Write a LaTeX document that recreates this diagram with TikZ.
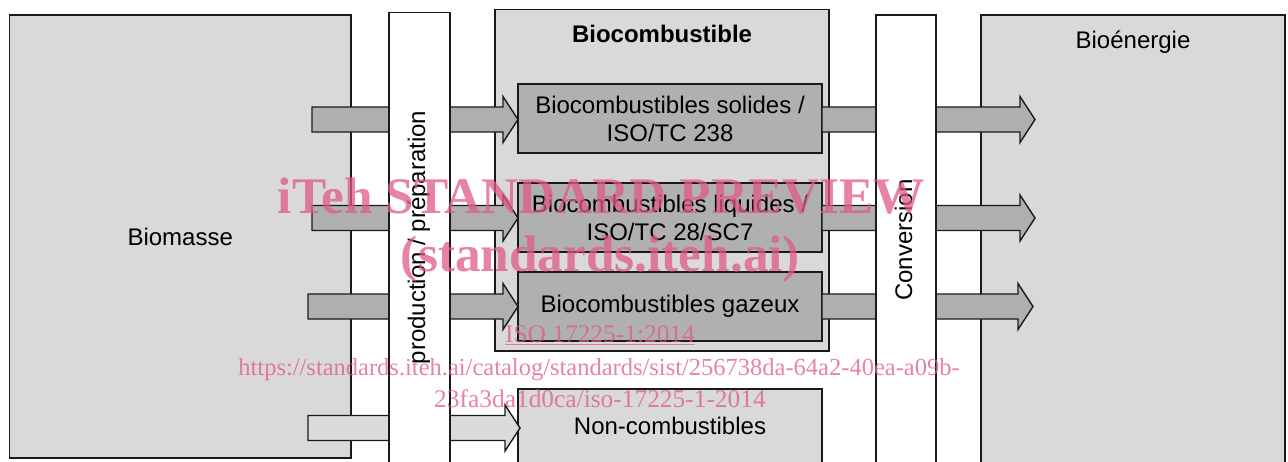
\documentclass[tikz,border=0pt]{standalone}
\usepackage{fontspec}
\setmainfont{Liberation Sans}
\newfontfamily\wmfont{Liberation Serif}
\usetikzlibrary{calc}

\definecolor{panel}{RGB}{217,217,217}
\definecolor{fuel}{RGB}{176,176,176}
\definecolor{flow}{RGB}{175,175,175}
\definecolor{flowlight}{RGB}{219,219,219}
\definecolor{edge}{RGB}{26,26,26}
\definecolor{stamp}{RGB}{225,90,135}

\tikzset{
  base/.style={draw=edge, line width=1.4pt, inner sep=0pt, outer sep=0pt,
               font=\fontsize{24}{28}\selectfont},
  panelbox/.style={base, fill=panel},
  fuelbox/.style={base, fill=fuel, align=center},
  column/.style={base, fill=white},
  flowarrow/.style={draw=edge, line width=1.4pt, line join=miter},
  caption/.style={inner sep=0pt, font=\fontsize{24}{28}\selectfont},
  stamptext/.style={text=stamp, text opacity=0.75, inner sep=0pt, anchor=base,
                    font=\wmfont\fontsize{25.4}{32}\selectfont},
  stamphead/.style={stamptext, font=\wmfont\bfseries\fontsize{51.3}{56}\selectfont},
}

% block arrow: fill, tail point, tip point, point giving the arrow's height
\newcommand\blockarrow[4]{%
  \path[flowarrow, fill=#1] let \p1=(#2), \p2=(#3), \p3=(#4) in
    (\x1,\y3+12.5pt) -- (\x2-15pt,\y3+12.5pt) -- (\x2-15pt,\y3+23pt) --
    (\x2,\y3) -- (\x2-15pt,\y3-23pt) -- (\x2-15pt,\y3-12.5pt) --
    (\x1,\y3-12.5pt) -- cycle;}

\begin{document}
\begin{tikzpicture}[x=1pt, y=-1pt]
\useasboundingbox (0,0) rectangle (1288,461);
\fill[white] (0,0) rectangle (1288,461);

\begin{scope}
\clip (0,0) rectangle (1288,461);

% large panels
\node[panelbox, minimum width=341.5pt, minimum height=443pt] (biomasse) at (180.25,236.5) {Biomasse};
\node[panelbox, minimum width=334pt, minimum height=341.5pt] (biocomb) at (662,180.25) {};
\node[panelbox, minimum width=304pt, minimum height=455pt] (bioen) at (1133,242.5) {};
\node[caption, font=\bfseries\fontsize{24}{28}\selectfont, anchor=base] (biocombtitle) at (662,42) {Biocombustible};
\node[caption, anchor=base] (bioentitle) at (1133,48) {Bioénergie};

% fuel classes
\node[fuelbox, minimum width=304pt, minimum height=69pt] (solides) at (670,118.5)
  {Biocombustibles solides /\\ISO/TC 238};
\node[fuelbox, minimum width=304pt, minimum height=69pt] (liquides) at (670,217.5)
  {Biocombustibles liquides /\\ISO/TC 28/SC7};
\node[fuelbox, minimum width=304pt, minimum height=69pt] (gazeux) at (670,306.5)
  {Biocombustibles gazeux};
\node[panelbox, minimum width=304pt, minimum height=81pt] (noncomb) at (670,429.5) {};
\node[caption, anchor=base] (noncomblabel) at (670,434) {Non-combustibles};

% flows into the fuel classes
\coordinate (in1) at (312,119.5);
\coordinate (in2) at (312,218);
\coordinate (in3) at (308,306.5);
\coordinate (in4) at (308,428);
\blockarrow{flow}{in1}{solides.west}{in1}
\blockarrow{flow}{in2}{liquides.west}{in2}
\blockarrow{flow}{in3}{gazeux.west}{in3}
\blockarrow{flowlight}{in4}{$(noncomb.west)+(2,0)$}{in4}

% flows into bioenergy
\coordinate (out1) at (1035,119.5);
\coordinate (out2) at (1035,218);
\coordinate (out3) at (1033,306.5);
\blockarrow{flow}{solides.east}{out1}{out1}
\blockarrow{flow}{liquides.east}{out2}{out2}
\blockarrow{flow}{gazeux.east}{out3}{out3}

% process columns
\node[column, minimum width=61pt, minimum height=457.5pt] (prod) at (419.5,241.25) {};
\node[column, minimum width=60pt, minimum height=455pt] (conv) at (906,242.5) {};
\node[caption, rotate=90, anchor=base] (prodlabel) at (425,237.5) {production / préparation};
\node[caption, rotate=90, anchor=base] (convlabel) at (912,240) {Conversion};
\end{scope}

% stamp
\node[stamphead] (stamp1) at (601.5,213) {iTeh STANDARD PREVIEW};
\node[stamphead] (stamp2) at (600.5,271) {(standards.iteh.ai)};
\node[stamptext] (stamp3) at (600,342) {\underline{ISO 17225-1:2014}};
\node[stamptext, font=\wmfont\fontsize{24.5}{32}\selectfont] (stamp4) at (599,375)
  {https://standards.iteh.ai/catalog/standards/sist/256738da-64a2-40ea-a09b-};
\node[stamptext] (stamp5) at (600,407) {23fa3da1d0ca/iso-17225-1-2014};
\end{tikzpicture}
\end{document}
